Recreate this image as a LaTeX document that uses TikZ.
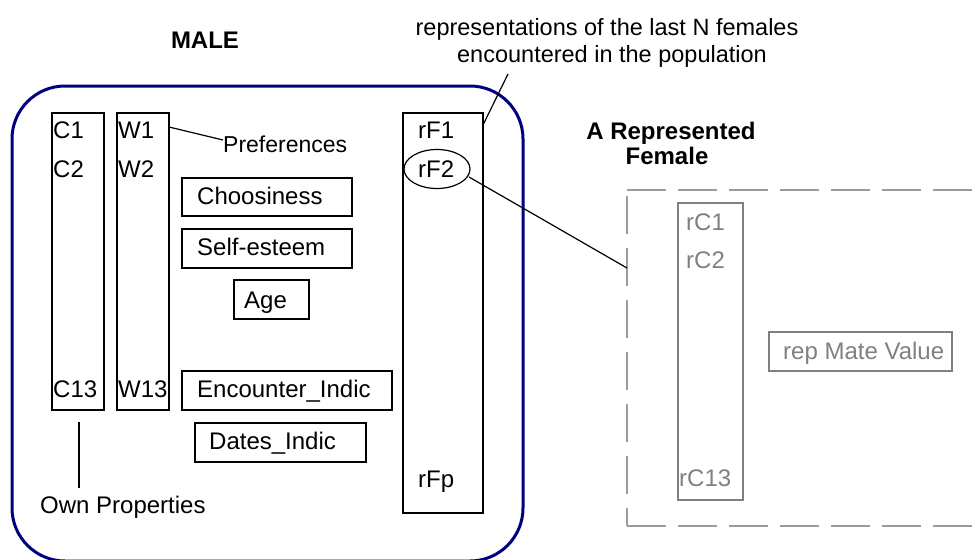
\documentclass[tikz,border=0pt]{standalone}
\usepackage{fontspec}
\setmainfont{Liberation Sans}
\usetikzlibrary{shapes.geometric}
\definecolor{navyblue}{RGB}{0,0,128}
\definecolor{repgray}{RGB}{128,128,128}
\definecolor{dashgray}{RGB}{155,155,155}
\begin{document}
\begin{tikzpicture}[x=1pt,y=-1pt,
  lbl/.style={anchor=base west, inner sep=0pt, font=\fontsize{24}{28}\selectfont},
  clbl/.style={anchor=base, inner sep=0pt, font=\fontsize{23.5}{27}\selectfont},
  title/.style={anchor=base, inner sep=0pt, font=\fontsize{24}{28}\selectfont\bfseries},
  box/.style={draw, line width=1.5pt, inner sep=0pt},
  gbox/.style={draw=repgray, line width=1.5pt, inner sep=0pt},
  glbl/.style={lbl, text=repgray},
  conn/.style={line width=1.2pt},
  dashside/.style={draw=dashgray, line width=1.3pt}]
\useasboundingbox (0,0) rectangle (978,560);
% male container
\node[draw=navyblue, line width=3pt, rounded corners=53pt, inner sep=0pt,
      minimum width=511pt, minimum height=475pt] (malebox) at (267.5,323.5) {};
% titles
\node[title] (male) at (205,48) {MALE};
\node[clbl] (top1) at (607,35) {representations of the last N females};
\node[clbl] (top2) at (612,62) {encountered in the population};
\node[title] (repf1) at (671,139) {A Represented};
\node[title] (repf2) at (667,164) {Female};
% C and W columns
\node[box, minimum width=52pt, minimum height=297pt] (cbox) at (78,261.5) {};
\node[box, minimum width=52pt, minimum height=297pt] (wbox) at (143,261.5) {};
\node[lbl] (c1) at (53,138) {C1};
\node[lbl] (c2) at (53,177) {C2};
\node[lbl] (c13) at (53,397) {C13};
\node[lbl] (w1) at (118,138) {W1};
\node[lbl] (w2) at (118,177) {W2};
\node[lbl] (w13) at (118,397) {W13};
% preferences
\node[lbl, font=\fontsize{23}{27}\selectfont] (pref) at (223,152) {Preferences};
\coordinate (wpref) at (169,127);
\coordinate (prefend) at (223,140);
\draw[conn] (wpref) -- (prefend);
% own properties
\node[lbl] (own) at (40,513) {Own Properties};
\coordinate (owntop) at (79,422);
\coordinate (ownbot) at (79,488);
\draw[conn] (owntop) -- (ownbot);
% boxes
\node[box, minimum width=170pt, minimum height=38pt] (choosebox) at (267,197) {};
\node[lbl] (choose) at (197,204) {Choosiness};
\node[box, minimum width=170pt, minimum height=39pt] (selfbox) at (267,248.5) {};
\node[lbl] (self) at (197,255) {Self-esteem};
\node[box, minimum width=75pt, minimum height=39pt] (agebox) at (271.5,299.5) {};
\node[lbl] (age) at (244,308) {Age};
\node[box, minimum width=210pt, minimum height=39pt] (encbox) at (287,390.5) {};
\node[lbl] (enc) at (197,397) {Encounter\_Indic};
\node[box, minimum width=171pt, minimum height=39pt] (datebox) at (280.5,442.5) {};
\node[lbl] (date) at (209,449) {Dates\_Indic};
% rF column
\node[box, minimum width=80pt, minimum height=400pt] (rfbox) at (443,313) {};
\node[lbl] (rf1) at (418,138) {rF1};
\node[lbl] (rf2) at (418,177) {rF2};
\node[lbl] (rfp) at (418,487) {rFp};
\node[draw, ellipse, line width=1.2pt, inner sep=0pt, minimum width=66pt, minimum height=39pt] (rf2ell) at (437,169) {};
\coordinate (rfone) at (483,125);
\coordinate (topend) at (508,74);
\draw[conn] (rfone) -- (topend);
% represented female dashed frame
\coordinate (dtl) at (627,190);
\coordinate (dbl) at (627,526);
\coordinate (dtr) at (990,190);
\coordinate (dbr) at (990,526);
\draw[dashside, dash pattern=on 39pt off 12pt] (dtl) -- (dtr);
\draw[dashside, dash pattern=on 39pt off 12pt] (dbl) -- (dbr);
\draw[dashside, dash pattern=on 38pt off 14pt, dash phase=20pt] (dbl) -- (dtl);
\coordinate (ellend) at (469,177);
\coordinate (fleft) at (627,268);
\draw[conn] (ellend) -- (fleft);
% rC column
\node[gbox, minimum width=65pt, minimum height=297pt] (rcbox) at (710.5,351.5) {};
\node[glbl] (rc1) at (686,230) {rC1};
\node[glbl] (rc2) at (686,268) {rC2};
\node[glbl] (rc13) at (679,486) {rC13};
\node[gbox, minimum width=183pt, minimum height=39pt] (mvbox) at (860.5,351.5) {};
\node[glbl] (mv) at (783,359) {rep Mate Value};
\end{tikzpicture}
\end{document}
